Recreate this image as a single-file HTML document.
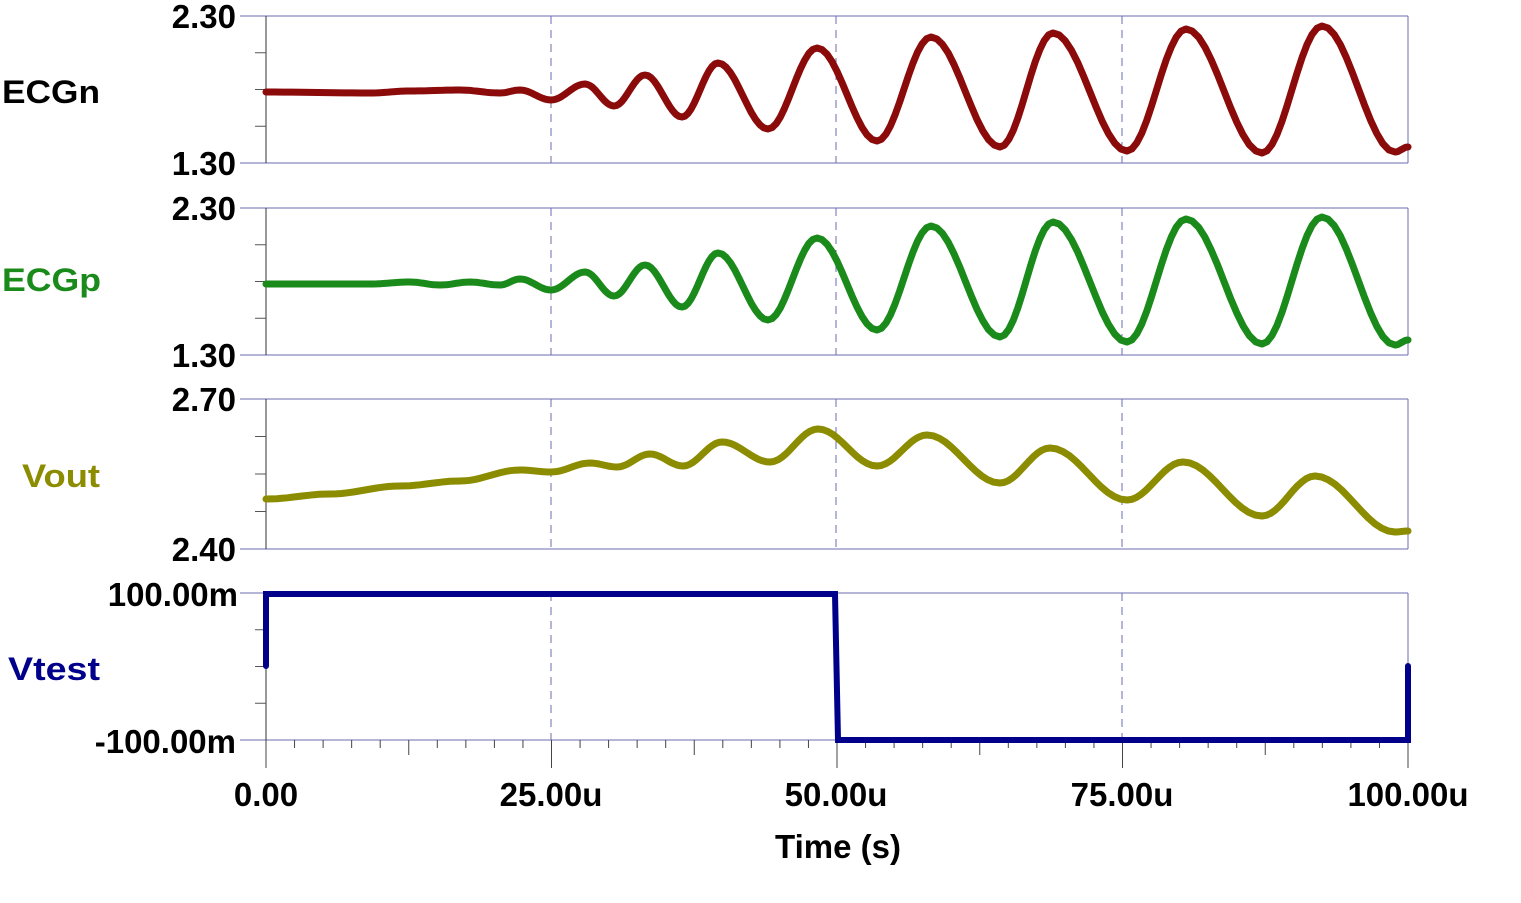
<!DOCTYPE html>
<html><head><meta charset="utf-8"><style>
body{margin:0;background:#fff;}
svg{display:block;font-family:"Liberation Sans",Arial,sans-serif;font-weight:bold;}
</style></head><body>
<svg id="s" width="1521" height="903" viewBox="0 0 1521 903" xmlns="http://www.w3.org/2000/svg">
<g font-size="33" text-anchor="end" fill="#000">
<text x="236" y="28">2.30</text><text x="236" y="175">1.30</text>
<text x="236" y="220">2.30</text><text x="236" y="367">1.30</text>
<text x="236" y="411">2.70</text><text x="236" y="561">2.40</text>
<text x="238" y="606">100.00m</text><text x="236" y="753">-100.00m</text>
</g>
<g font-size="32" text-anchor="start">
<text x="2" y="103" fill="#000" textLength="98" lengthAdjust="spacingAndGlyphs">ECGn</text>
<text x="2" y="291" fill="#1a8a1a" textLength="99" lengthAdjust="spacingAndGlyphs">ECGp</text>
<text x="22" y="487" fill="#8c8c00" textLength="78" lengthAdjust="spacingAndGlyphs">Vout</text>
<text x="8" y="680" fill="#00008b" textLength="92" lengthAdjust="spacingAndGlyphs">Vtest</text>
</g>
<g font-size="33" text-anchor="middle" fill="#000">
<text x="266" y="806">0.00</text><text x="551" y="806">25.00u</text><text x="836" y="806">50.00u</text>
<text x="1122" y="806">75.00u</text><text x="1408" y="806">100.00u</text>
<text x="838" y="858" font-size="33">Time (s)</text>
</g>
<g id="axes"></g>
<g id="curves" fill="none" stroke-linejoin="round" stroke-linecap="round"></g>
</svg>
<script>
const NS="http://www.w3.org/2000/svg";
const ax=document.getElementById('axes'),cv=document.getElementById('curves');
function el(p,tag,a){const e=document.createElementNS(NS,tag);for(const k in a)e.setAttribute(k,a[k]);p.appendChild(e);return e;}
const L=266,R=1408;
const panels=[[16,163],[208,355],[399,549],[593,740]];
panels.forEach(([t,b])=>{
 el(ax,'line',{x1:240,y1:t,x2:R,y2:t,stroke:'#6b6bb0','stroke-width':1});
 el(ax,'line',{x1:240,y1:b,x2:R,y2:b,stroke:'#6b6bb0','stroke-width':1});
 el(ax,'line',{x1:R,y1:t,x2:R,y2:b,stroke:'#6b6bb0','stroke-width':1});
 el(ax,'line',{x1:L,y1:t,x2:L,y2:b,stroke:'#333','stroke-width':1});
 for(let i=1;i<4;i++){const y=t+(b-t)*i/4;el(ax,'line',{x1:255,y1:y,x2:L,y2:y,stroke:'#555','stroke-width':1});}
 [551,836,1122].forEach(x=>el(ax,'line',{x1:x,y1:t,x2:x,y2:b,stroke:'#6b6bb0','stroke-width':1,'stroke-dasharray':'8,6'}));
});
for(let i=0;i<=40;i++){const x=L+(R-L)*i/40;const big=i%10==0;const mid=i%5==0;
 el(ax,'line',{x1:x,y1:740,x2:x,y2:big?768:(mid?755:748),stroke:'#444','stroke-width':1});}
function curve(pts,color){
 let d='M'+pts[0][0]+','+pts[0][1];
 for(let i=0;i<pts.length-1;i++){const [x0,y0]=pts[i],[x1,y1]=pts[i+1];
  for(let k=1;k<=12;k++){const f=k/12;const g=(1-Math.cos(Math.PI*f))/2;d+=' L'+(x0+(x1-x0)*f).toFixed(1)+','+(y0+(y1-y0)*g).toFixed(1);}}
 el(cv,'path',{d:d,stroke:color,'stroke-width':7});
}
const ecgn=[[266,92],[370,93],[410,91],[460,90],[500,93],[520,90],[551,100],[585,84],[614,106],[645,75],[682,117],[718,63],[768,129],[817,48],[877,141],[931,37],[1000,147],[1053,33],[1127,151],[1186,29],[1262,153],[1322,26],[1395,152],[1408,147]];
curve(ecgn,'#8b0a0a');
const ecgp=[[266,284],[370,284],[410,282],[440,285],[470,282],[500,285],[520,279],[551,290],[585,272],[614,296],[645,265],[682,307],[718,253],[768,320],[817,238],[877,330],[931,226],[1000,337],[1053,222],[1127,342],[1186,219],[1262,344],[1322,217],[1395,345],[1408,340]];
curve(ecgp,'#1a8a1a');
const vout=[[266,499],[330,494],[400,486],[460,481],[520,470],[551,472],[590,463],[617,467],[650,454],[683,466],[722,442],[770,462],[818,429],[877,466],[927,435],[1000,483],[1050,448],[1127,500],[1183,462],[1262,516],[1315,476],[1395,532],[1408,531]];
curve(vout,'#8c8c00');
el(cv,'path',{d:'M266,666 L266,594 L835,594 L838,740 L1408,740 L1408,666',stroke:'#00008b','stroke-width':6,'stroke-linejoin':'miter'});
</script>
</body></html>
